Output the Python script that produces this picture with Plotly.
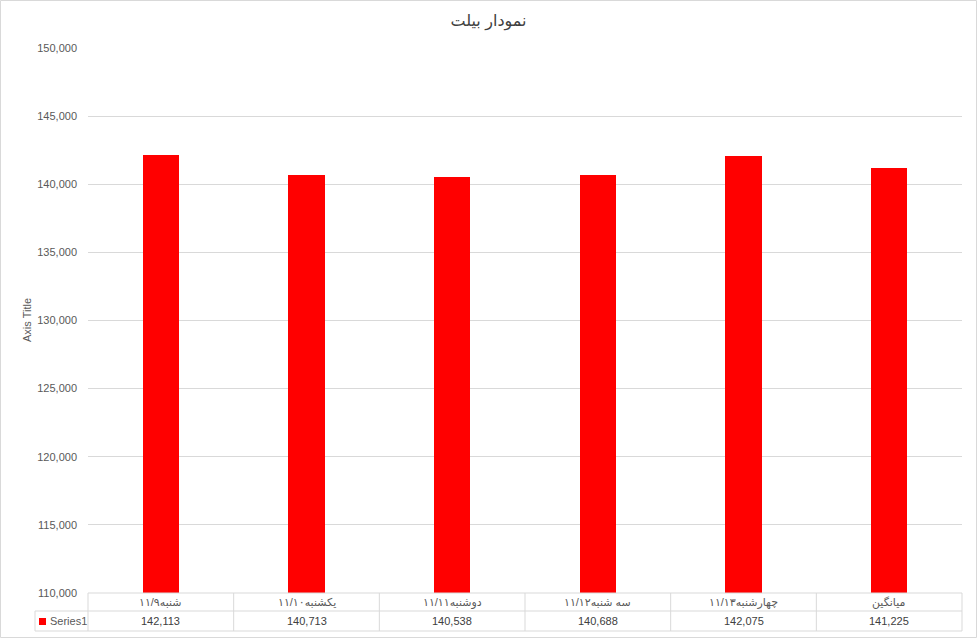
import plotly.graph_objects as go

categories = ["شنبه۱۱/۹", "یکشنبه۱۱/۱۰", "دوشنبه۱۱/۱۱", "سه شنبه۱۱/۱۲", "چهارشنبه۱۱/۱۳", "میانگین"]
values = [142113, 140713, 140538, 140688, 142075, 141225]
series_name = "Series1"
title_text = "نمودار بیلت"
y_title = "Axis Title"
y_range = [110000, 150000]
y_dtick = 5000

W, H = 977, 638
L, R, T, B = 88, 15, 48, 45
PW, PH = W - L - R, H - T - B

def px_x(p):
    return (p - L) / PW

def px_y(p):
    return (H - B - p) / PH

grey = "#d9d9d9"
txt = "#595959"
font_fam = "Liberation Sans, DejaVu Sans, Arial, sans-serif"

n = len(categories)
idx = list(range(n))

fig = go.Figure()
fig.add_trace(go.Bar(x=idx, y=values, width=0.25, marker_color="#ff0000",
                     marker_line_width=0, name=series_name, showlegend=False,
                     hoverinfo="skip"))

shapes = []
annotations = []

# outer chart border
shapes.append(dict(type="rect", xref="paper", yref="paper",
                   x0=px_x(0.5), x1=px_x(W - 0.5), y0=px_y(H - 0.5), y1=px_y(0.5),
                   line=dict(color=grey, width=1), layer="below"))

row1 = px_y(611)
row2 = px_y(631)
left = px_x(35)
# horizontal table lines
shapes.append(dict(type="line", xref="paper", yref="paper", x0=0, x1=1, y0=0, y1=0,
                   line=dict(color=grey, width=1)))
shapes.append(dict(type="line", xref="paper", yref="paper", x0=left, x1=1, y0=row1, y1=row1,
                   line=dict(color=grey, width=1)))
shapes.append(dict(type="line", xref="paper", yref="paper", x0=left, x1=1, y0=row2, y1=row2,
                   line=dict(color=grey, width=1)))
shapes.append(dict(type="line", xref="paper", yref="paper", x0=left, x1=left, y0=row1, y1=row2,
                   line=dict(color=grey, width=1)))
for k in range(n + 1):
    xx = k / n
    shapes.append(dict(type="line", xref="paper", yref="paper", x0=xx, x1=xx, y0=0, y1=row2,
                       line=dict(color=grey, width=1)))

# legend key
shapes.append(dict(type="rect", xref="paper", yref="paper",
                   x0=px_x(39), x1=px_x(46), y0=px_y(625), y1=px_y(618),
                   fillcolor="#ff0000", line=dict(width=0)))
annotations.append(dict(xref="paper", yref="paper", x=px_x(48), y=(row1 + row2) / 2,
                        text=series_name, showarrow=False, xanchor="left", yanchor="middle",
                        font=dict(size=11, color=txt, family=font_fam)))

for i, (c, v) in enumerate(zip(categories, values)):
    annotations.append(dict(xref="x", yref="paper", x=i, y=row1 / 2, text=c,
                            showarrow=False, xanchor="center", yanchor="middle",
                            font=dict(size=11, color=txt, family=font_fam)))
    annotations.append(dict(xref="x", yref="paper", x=i, y=(row1 + row2) / 2, text=f"{v:,}",
                            showarrow=False, xanchor="center", yanchor="middle",
                            font=dict(size=11, color="#404040", family=font_fam)))

annotations.append(dict(xref="paper", yref="paper", x=px_x(27), y=px_y(320), text=y_title,
                        textangle=-90, showarrow=False, xanchor="center", yanchor="middle",
                        font=dict(size=11, color=txt, family=font_fam)))

fig.update_layout(
    width=W, height=H,
    margin=dict(l=L, r=R, t=T, b=B, pad=0),
    paper_bgcolor="white", plot_bgcolor="white",
    title=dict(text=title_text, x=0.5, xref="container", xanchor="center",
               y=1 - 20 / H, yref="container", yanchor="middle",
               font=dict(size=16, color="#404040", family=font_fam)),
    xaxis=dict(range=[-0.5, n - 0.5], showticklabels=False, showgrid=False,
               zeroline=False, showline=False, ticks=""),
    yaxis=dict(range=y_range, dtick=y_dtick, tickformat=",", showgrid=True,
               gridcolor=grey, gridwidth=1, zeroline=False, showline=False,
               ticks="", ticklabelstandoff=10,
               tickfont=dict(size=11, color=txt, family=font_fam)),
    shapes=shapes, annotations=annotations, bargap=0,
)

fig.write_html("out.html", config={"displayModeBar": False},
               post_script="document.body.style.margin='0';document.body.style.overflow='hidden';")
